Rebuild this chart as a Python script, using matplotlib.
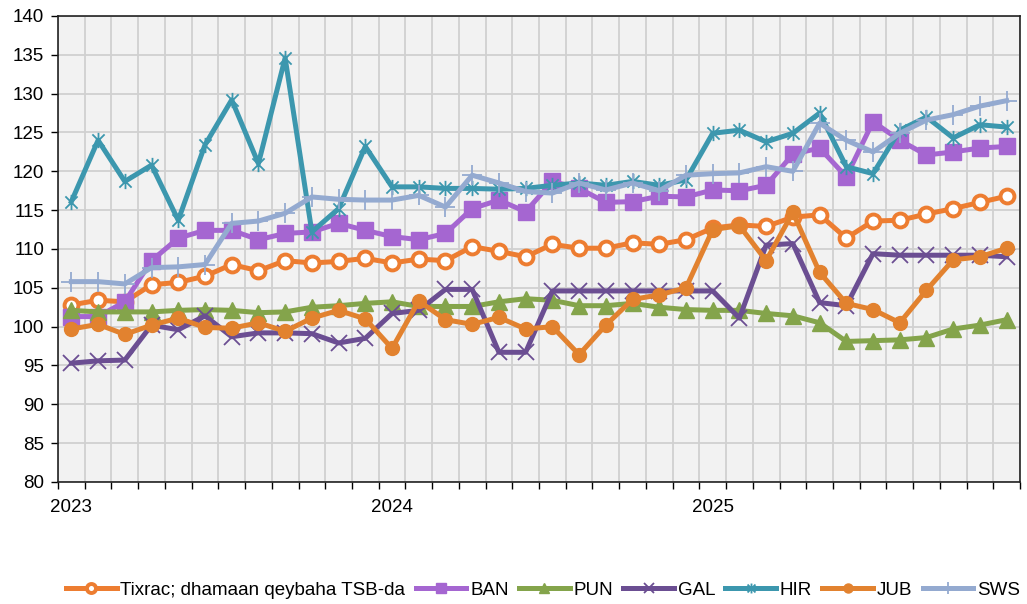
import numpy as np
import matplotlib
matplotlib.use("Agg")
import matplotlib.pyplot as plt
from matplotlib.path import Path

plt.rcParams['font.family'] = ['Liberation Sans', 'DejaVu Sans']

# ---- data ----
years = ["2023", "2024", "2025"]
n_months = 36

tixrac = [102.8, 103.4, 103.2, 105.4, 105.7, 106.5, 108.0, 107.2, 108.5, 108.2, 108.4, 108.8,
          108.2, 108.7, 108.5, 110.3, 109.7, 109.0, 110.6, 110.1, 110.1, 110.8, 110.6, 111.2,
          112.7, 113.1, 112.9, 114.1, 114.4, 111.4, 113.6, 113.7, 114.5, 115.2, 116.0, 116.8]
ban = [101.3, 101.3, 103.2, 108.5, 111.4, 112.4, 112.4, 111.2, 112.0, 112.2, 113.3, 112.4,
       111.6, 111.2, 112.0, 115.2, 116.3, 114.8, 118.7, 117.8, 116.0, 116.1, 116.8, 116.7,
       117.6, 117.5, 118.2, 122.2, 123.0, 119.3, 126.4, 124.0, 122.1, 122.5, 123.0, 123.2]
pun = [102.1, 101.9, 101.9, 101.9, 102.1, 102.2, 102.1, 101.8, 101.9, 102.5, 102.7, 103.0,
       103.2, 102.6, 102.6, 102.6, 103.2, 103.6, 103.4, 102.7, 102.7, 103.0, 102.5, 102.2,
       102.1, 102.1, 101.7, 101.4, 100.5, 98.1, 98.2, 98.3, 98.6, 99.7, 100.2, 100.9]
gal = [95.3, 95.6, 95.7, 100.2, 99.6, 101.4, 98.7, 99.2, 99.2, 99.1, 97.9, 98.5,
       101.7, 102.1, 104.8, 104.8, 96.7, 96.7, 104.6, 104.6, 104.6, 104.6, 104.6, 104.6,
       104.6, 101.1, 110.5, 110.7, 103.1, 102.7, 109.4, 109.2, 109.2, 109.2, 109.2, 109.0]
hir = [116.1, 124.0, 118.7, 120.8, 113.7, 123.4, 129.2, 121.0, 134.6, 112.2, 115.2, 123.2,
       118.0, 118.0, 117.8, 117.8, 117.7, 117.8, 118.2, 118.5, 118.2, 118.7, 118.2, 118.9,
       124.9, 125.3, 123.8, 124.9, 127.5, 120.6, 119.7, 125.3, 127.0, 124.3, 126.0, 125.7]
jub = [99.7, 100.3, 99.0, 100.2, 101.1, 99.9, 99.8, 100.5, 99.4, 101.1, 102.1, 101.0,
       97.2, 103.3, 100.9, 100.3, 101.2, 99.7, 100.0, 96.4, 100.2, 103.5, 104.1, 105.0,
       112.5, 113.0, 108.5, 114.7, 107.0, 103.0, 102.2, 100.5, 104.7, 108.6, 109.0, 110.1]
sws = [105.8, 105.8, 105.5, 107.6, 107.7, 108.0, 113.3, 113.6, 114.6, 116.7, 116.4, 116.3,
       116.3, 116.9, 115.4, 119.5, 118.5, 117.4, 117.2, 118.5, 117.6, 118.5, 117.5, 119.5,
       119.7, 119.8, 120.6, 120.0, 126.2, 124.0, 122.5, 124.9, 126.6, 127.3, 128.4, 129.1]

names = ["Tixrac; dhamaan qeybaha TSB-da", "BAN", "PUN", "GAL", "HIR", "JUB", "SWS"]

# asterisk marker (x + vertical bar)
ast = Path([(-1, -1), (1, 1), (-1, 1), (1, -1), (0, -1.25), (0, 1.25)],
           [Path.MOVETO, Path.LINETO, Path.MOVETO, Path.LINETO, Path.MOVETO, Path.LINETO])

styles = [
    dict(color='#ED7D31', marker='o', ms=10, mfc='white', mec='#ED7D31', mew=2.8, lw=3.6),
    dict(color='#A566D1', marker='s', ms=11, mfc='#A566D1', mec='#A566D1', lw=3.6),
    dict(color='#84A44B', marker='^', ms=11, mfc='#84A44B', mec='#84A44B', lw=3.6),
    dict(color='#6B4E92', marker='x', ms=11, mec='#6B4E92', mew=1.3, lw=3.6),
    dict(color='#3C97AE', marker=ast, ms=11, mec='#3C97AE', mew=1.3, lw=3.6),
    dict(color='#E2822F', marker='o', ms=10, mfc='#E2822F', mec='#E2822F', lw=3.6),
    dict(color='#94AAD0', marker='+', ms=14, mec='#94AAD0', mew=1.3, lw=3.6),
]
series = [tixrac, ban, pun, gal, hir, jub, sws]

fig = plt.figure(figsize=(10.27, 6.04), dpi=100)
ax = fig.add_axes([58/1027, 1-482/604, (1020-58)/1027, (482-16)/604])
ax.set_facecolor('#F2F2F2')

x = np.arange(n_months)
for name, s, st in zip(names, series, styles):
    ax.plot(x, s, label=name, solid_joinstyle='round', **st)

ax.set_xlim(-0.5, n_months - 0.5)
ax.set_ylim(80, 140)
ax.set_yticks(np.arange(80, 141, 5))
ax.set_xticks([0, 12, 24])
ax.set_xticklabels(years)
ax.set_xticks(np.arange(-0.5, n_months, 1), minor=True)
ax.tick_params(axis='x', which='major', length=0, pad=12, labelsize=13.5)
ax.tick_params(axis='x', which='minor', length=5, width=1, direction='out')
ax.tick_params(axis='y', length=5, width=1, direction='out', labelsize=13.5, pad=5)
ax.grid(True, which='minor', axis='x', color='#D0D0D0', lw=1.3)
ax.grid(True, which='major', axis='y', color='#D0D0D0', lw=1.3)
ax.set_axisbelow(True)
for sp in ax.spines.values():
    sp.set_color('#222222')
    sp.set_linewidth(1.2)

leg = fig.legend(loc='center', bbox_to_anchor=(543/1027, 1-590/604), ncol=7, frameon=False,
                 fontsize=13.5, handlelength=2.7, handletextpad=0.2, columnspacing=0.55,
                 borderaxespad=0, markerscale=0.65)

fig.savefig('out.png', dpi=100)
